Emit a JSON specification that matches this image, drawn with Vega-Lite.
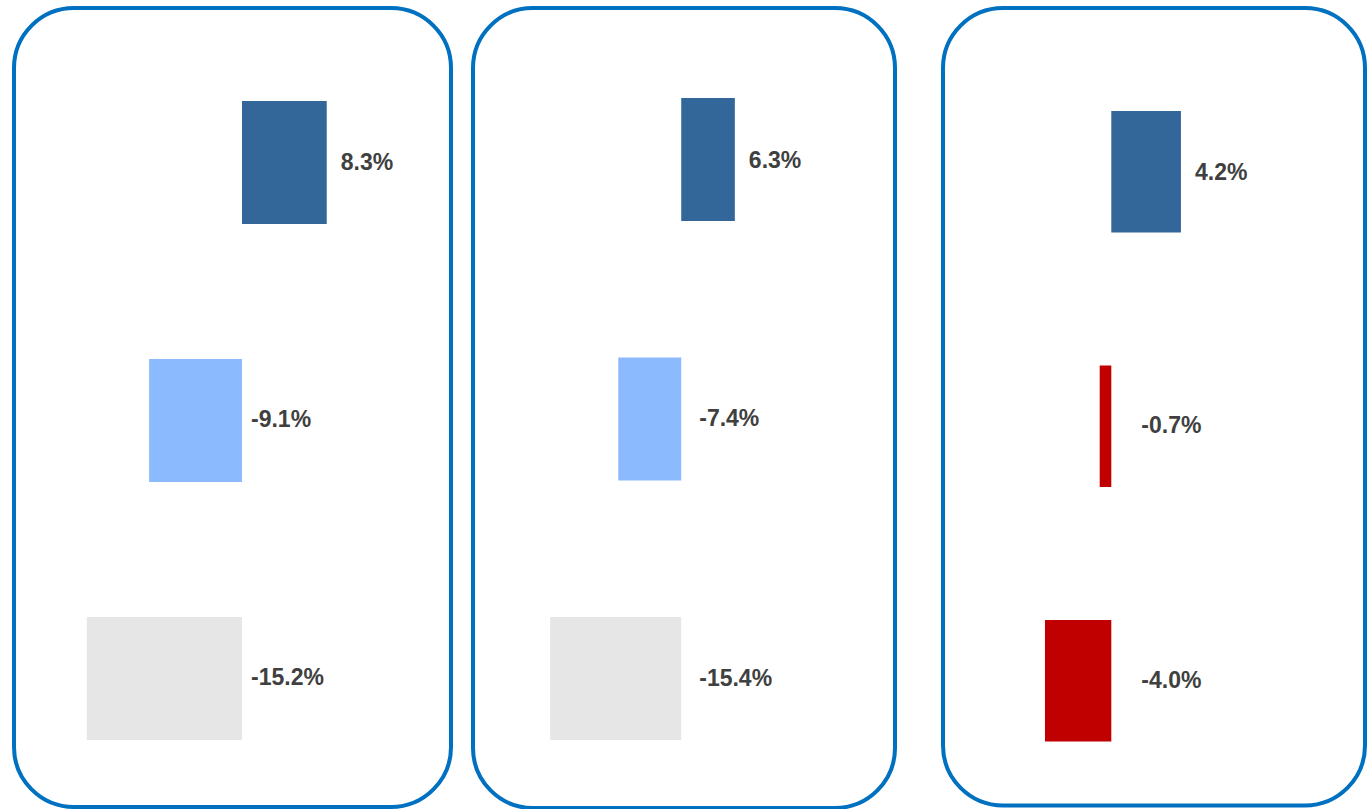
{
  "$schema": "https://vega.github.io/schema/vega-lite/v6.json",
  "padding": {"left": 12, "top": 6, "right": 0, "bottom": 0},
  "background": "white",
  "datasets": {
    "p1": [
      {"row": "1", "kind": "A", "value": 0.083},
      {"row": "2", "kind": "B", "value": -0.091},
      {"row": "3", "kind": "C", "value": -0.152}
    ],
    "p2": [
      {"row": "1", "kind": "A", "value": 0.063},
      {"row": "2", "kind": "B", "value": -0.074},
      {"row": "3", "kind": "C", "value": -0.154}
    ],
    "p3": [
      {"row": "1", "kind": "A", "value": 0.042},
      {"row": "2", "kind": "D", "value": -0.007},
      {"row": "3", "kind": "D", "value": -0.040}
    ]
  },
  "config": {
    "view": {"stroke": "#0070c0", "strokeWidth": 4, "cornerRadius": 60, "fill": "white"},
    "text": {"font": "Liberation Sans", "fontWeight": "bold", "fontSize": 23, "color": "#404040", "baseline": "middle", "align": "left"}
  },
  "spacing": 44,
  "columns": 2,
  "align": "none",
  "concat": [
    {
      "spacing": 18,
      "columns": 2,
      "align": "none",
      "concat": [
        {
          "width": 437,
          "height": 799,
          "data": {"name": "p1"},
          "transform": [{"calculate": "replace(format(datum.value, '.1%'), '\u2212', '-')", "as": "label"}],
          "encoding": {
            "y": {"field": "row", "type": "nominal", "sort": null, "axis": null,
                  "scale": {"paddingInner": 0.5233, "paddingOuter": 0.3101, "align": 0.581}}
          },
          "layer": [
            {
              "mark": {"type": "bar"},
              "encoding": {
                "x": {"field": "value", "type": "quantitative", "axis": null, "scale": {"domain": [-0.2233, 0.2047], "nice": false}},
                "color": {"field": "kind", "type": "nominal", "legend": null,
                          "scale": {"domain": ["A", "B", "C", "D"], "range": ["#336699", "#8cbaff", "#e6e6e6", "#c00000"]}}
              }
            },
            {
              "transform": [{"filter": "datum.value >= 0"}],
              "mark": {"type": "text", "dx": 14, "dy": 1},
              "encoding": {
                "x": {"field": "value", "type": "quantitative"},
                "text": {"field": "label", "type": "nominal"}
              }
            },
            {
              "transform": [{"filter": "datum.value < 0"}],
              "mark": {"type": "text", "dx": 9},
              "encoding": {
                "x": {"datum": 0, "type": "quantitative"},
                "text": {"field": "label", "type": "nominal"}
              }
            }
          ]
        },
        {
          "width": 422,
          "height": 800,
          "data": {"name": "p2"},
          "transform": [{"calculate": "replace(format(datum.value, '.1%'), '\u2212', '-')", "as": "label"}],
          "encoding": {
            "y": {"field": "row", "type": "nominal", "sort": null, "axis": null,
                  "scale": {"paddingInner": 0.526, "paddingOuter": 0.3044, "align": 0.57}}
          },
          "layer": [
            {
              "mark": {"type": "bar"},
              "encoding": {
                "x": {"field": "value", "type": "quantitative", "axis": null, "scale": {"domain": [-0.2447, 0.2512], "nice": false}},
                "color": {"field": "kind", "type": "nominal", "legend": null,
                          "scale": {"domain": ["A", "B", "C", "D"], "range": ["#336699", "#8cbaff", "#e6e6e6", "#c00000"]}}
              }
            },
            {
              "transform": [{"filter": "datum.value >= 0"}],
              "mark": {"type": "text", "dx": 14, "dy": 1},
              "encoding": {
                "x": {"field": "value", "type": "quantitative"},
                "text": {"field": "label", "type": "nominal"}
              }
            },
            {
              "transform": [{"filter": "datum.value < 0"}],
              "mark": {"type": "text", "dx": 18},
              "encoding": {
                "x": {"datum": 0, "type": "quantitative"},
                "text": {"field": "label", "type": "nominal"}
              }
            }
          ]
        }
      ]
    },
    {
      "width": 422,
      "height": 797.5,
      "data": {"name": "p3"},
      "transform": [{"calculate": "replace(format(datum.value, '.1%'), '\u2212', '-')", "as": "label"}],
      "encoding": {
        "y": {"field": "row", "type": "nominal", "sort": null, "axis": null,
              "scale": {"paddingInner": 0.5226, "paddingOuter": 0.3281, "align": 0.617}}
      },
      "layer": [
        {
          "mark": {"type": "bar"},
          "encoding": {
            "x": {"field": "value", "type": "quantitative", "axis": null, "scale": {"domain": [-0.1015, 0.153], "nice": false}},
            "color": {"field": "kind", "type": "nominal", "legend": null,
                      "scale": {"domain": ["A", "B", "C", "D"], "range": ["#336699", "#8cbaff", "#e6e6e6", "#c00000"]}}
          }
        },
        {
          "transform": [{"filter": "datum.value >= 0"}],
          "mark": {"type": "text", "dx": 14, "dy": 1},
          "encoding": {
            "x": {"field": "value", "type": "quantitative"},
            "text": {"field": "label", "type": "nominal"}
          }
        },
        {
          "transform": [{"filter": "datum.value < 0"}],
          "mark": {"type": "text", "dx": 30},
          "encoding": {
            "x": {"datum": 0, "type": "quantitative"},
            "text": {"field": "label", "type": "nominal"}
          }
        }
      ]
    }
  ]
}
